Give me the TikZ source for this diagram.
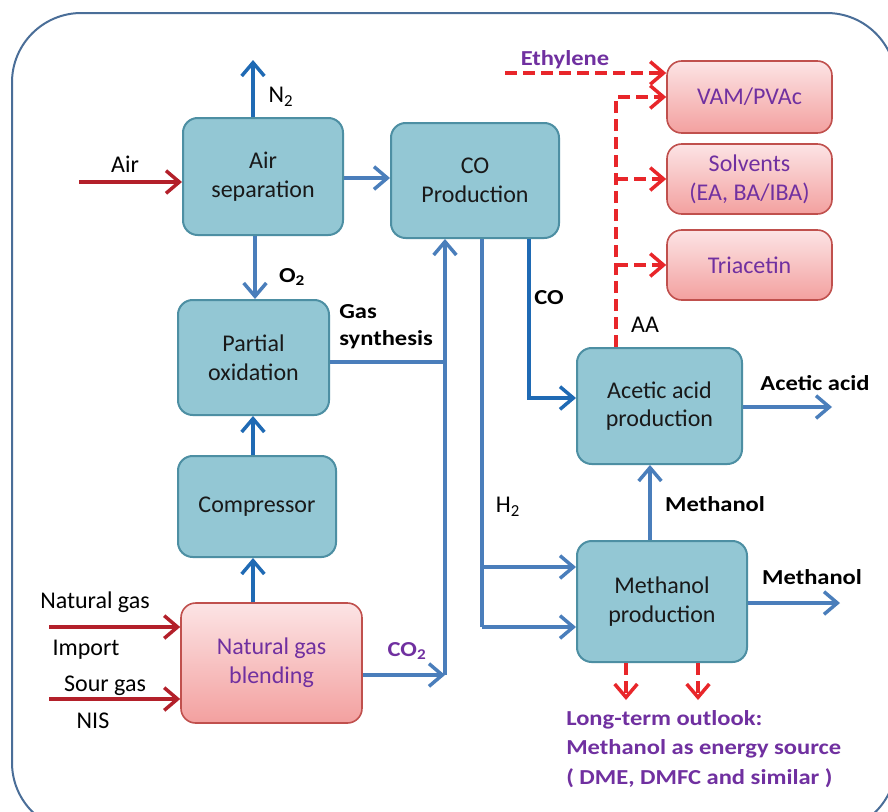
\documentclass[tikz,border=0pt]{standalone}
\usepackage{fontspec}
\setmainfont{Carlito}
\newfontfamily\widef[FakeStretch=1.15]{Carlito}
\usetikzlibrary{arrows.meta}
\definecolor{tealfill}{HTML}{93C7D4}
\definecolor{tealline}{HTML}{4D8FA3}
\definecolor{pinktop}{HTML}{FCE4E5}
\definecolor{pinkbot}{HTML}{F3A09F}
\definecolor{pinkline}{HTML}{C0504D}
\definecolor{flow}{HTML}{4A7EBB}
\definecolor{flowdark}{HTML}{1F6AB4}
\definecolor{feed}{HTML}{B3202A}
\definecolor{prod}{HTML}{E8262A}
\definecolor{purp}{HTML}{7030A0}
\definecolor{framec}{HTML}{4A6E98}
\tikzset{
  tbox/.style={draw=tealline, line width=1.5pt, fill=tealfill, rounded corners=11pt,
    inner sep=0pt, align=center, text=black!90, font=\fontsize{18}{21.5}\selectfont},
  pbox/.style={draw=pinkline, line width=1.2pt, top color=pinktop, bottom color=pinkbot,
    rounded corners=11pt, inner sep=0pt, align=center, text=purp, font=\fontsize{18}{21.5}\selectfont},
  tip/.style={-{Straight Barb[length=10pt,width=17pt,line width=2.6pt]}},
  flowA/.style={tip, draw=flow, line width=3pt},
  flowL/.style={draw=flow, line width=3pt},
  flowD/.style={tip, draw=flowdark, line width=3pt},
  feedA/.style={tip, draw=feed, line width=3pt},
  prodA/.style={tip, draw=prod, line width=3pt, dash pattern=on 9pt off 4.5pt},
  lab/.style={inner sep=0pt, font=\fontsize{18}{21}\selectfont},
  blab/.style={inner sep=0pt, font=\widef\bfseries\fontsize{16}{20}\selectfont},
}
\begin{document}
\begin{tikzpicture}[x=0.75pt,y=-0.75pt]
\useasboundingbox (0,0) rectangle (888,811);
\clip (0,0) rectangle (888,811);
\fill[white] (0,0) rectangle (888,811);
\draw[framec, line width=1.5pt, rounded corners=52pt] (12,13) rectangle (896,832);

% boxes
\node[tbox, minimum width=120pt, minimum height=87.75pt] (airsep) at (263,176.5) {Air\\separation};
\node[tbox, minimum width=126pt, minimum height=86.25pt] (coprod) at (475,180.5) {CO\\Production};
\node[tbox, minimum width=113.25pt, minimum height=86.25pt] (partox) at (253.5,357.5) {Partial\\oxidation};
\node[tbox, minimum width=118.5pt, minimum height=75.75pt] (comp) at (257,506.5) {Compressor};
\node[pbox, minimum width=135.75pt, minimum height=90pt] (blend) at (271.5,663) {Natural gas\\blending};
\node[pbox, minimum width=123.75pt, minimum height=54pt] (vam) at (749.5,97) {VAM/PVAc};
\node[pbox, minimum width=123.75pt, minimum height=52.5pt] (solv) at (749.5,179) {Solvents\\(EA, BA/IBA)};
\node[pbox, minimum width=123.75pt, minimum height=52.5pt] (tria) at (749.5,265) {Triacetin};
\node[tbox, minimum width=123.75pt, minimum height=87pt] (acetic) at (659.5,406) {Acetic acid\\production};
\node[tbox, minimum width=127.5pt, minimum height=90.75pt] (methprod) at (662,601.5) {Methanol\\production};

% coordinates
\coordinate (n2end) at (253,60);
\coordinate (airstart) at (79,182);
\coordinate (ya) at (0,178);
\coordinate (xo) at (255,0);
\coordinate (xc) at (253,0);
\coordinate (jp) at (445,362);
\coordinate (j2) at (445,675);
\coordinate (h1) at (482,567);
\coordinate (h2) at (482,627);
\coordinate (c1) at (529,398);
\coordinate (e1) at (832,407);
\coordinate (e2) at (840,603);
\coordinate (m1) at (650,0);
\coordinate (d1) at (626,700);
\coordinate (d2) at (698,700);
\coordinate (aa) at (616,0);
\coordinate (eth) at (505,73);
\coordinate (ng1) at (49,627);
\coordinate (ng2) at (49,699);

% connectors
\draw[flowD] (airsep.north -| xc) -- (n2end);
\draw[feedA] (airstart) -- (airstart -| airsep.west);
\draw[flowA] (airsep.east |- ya) -- (coprod.west |- ya);
\draw[flowA] (airsep.south -| xo) -- (partox.north -| xo);
\draw[flowD] (comp.north -| xc) -- (partox.south -| xc);
\draw[flowD] (blend.north -| xc) -- (comp.south -| xc);
\draw[flowL] (partox.east |- jp) -- (jp);
\draw[flowA] (j2) -- (coprod.south -| j2);
\draw[flowA] (blend.east |- j2) -- (j2);
\draw[flowL] (coprod.south -| h1) -- (h2);
\draw[flowA] (h1) -- (methprod.west |- h1);
\draw[flowA] (h2) -- (methprod.west |- h2);
\draw[flowD] (coprod.south -| c1) |- (acetic.west |- c1);
\draw[flowA] (acetic.east |- e1) -- (e1);
\draw[flowA] (methprod.north -| m1) -- (acetic.south -| m1);
\draw[flowA] (methprod.east |- e2) -- (e2);
\draw[prodA] (methprod.south -| d1) -- (d1);
\draw[prodA] (methprod.south -| d2) -- (d2);
\draw[prodA] (acetic.north -| aa) |- (vam.west);
\draw[prodA] (solv.west -| aa) -- (solv.west);
\draw[prodA] (tria.west -| aa) -- (tria.west);
\draw[prodA] (eth) -- (vam.west |- eth);
\draw[feedA] (ng1) -- (blend.west |- ng1);
\draw[feedA] (ng2) -- (blend.west |- ng2);

% labels
\node[lab] (ln2) at (281,97) {N\textsubscript{2}};
\node[lab] (lair) at (125,164) {Air};
\node[blab] (lo2) at (292,277) {O\textsubscript{2}};
\node[blab, anchor=west, align=left] (lgas) at (339,327) {Gas\\synthesis};
\node[blab] (lco) at (549,298) {CO};
\node[lab] (laa) at (645,325) {AA};
\node[blab] (lacet) at (815,383) {Acetic acid};
\node[blab] (lmeth1) at (715,504) {Methanol};
\node[blab] (lmeth2) at (812,577) {Methanol};
\node[lab] (lh2) at (508,507) {H\textsubscript{2}};
\node[blab, text=purp] (lco2) at (407,651) {CO\textsubscript{2}};
\node[blab, text=purp] (leth) at (565,60) {Ethylene};
\node[lab] (lng) at (95,602) {Natural gas};
\node[lab] (limp) at (86,650) {Import};
\node[lab] (lsour) at (105,686) {Sour gas};
\node[lab] (lnis) at (93,721) {NIS};
\node[blab, text=purp, anchor=west, align=left, font=\widef\bfseries\fontsize{16}{22}\selectfont] (lout) at (566,749)
  {Long-term outlook:\\Methanol as energy source\\( DME, DMFC and similar )};
\end{tikzpicture}
\end{document}
